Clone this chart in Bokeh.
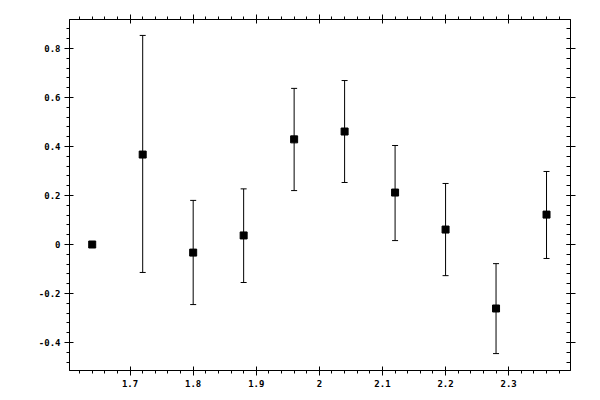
from bokeh.plotting import figure
from bokeh.models import (ColumnDataSource, Range1d, LinearAxis, FixedTicker,
                          Whisker, TeeHead)
from bokeh.embed import file_html
from bokeh.resources import INLINE
import numpy as np

# data
x_vals = [1.64, 1.72, 1.80, 1.88, 1.96, 2.04, 2.12, 2.20, 2.28, 2.36]
y_vals = [0.0, 0.367, -0.033, 0.037, 0.429, 0.461, 0.212, 0.061, -0.261, 0.122]
y_upper = [0.0, 0.853, 0.180, 0.227, 0.637, 0.669, 0.404, 0.249, -0.078, 0.298]
y_lower = [0.0, -0.114, -0.245, -0.155, 0.220, 0.253, 0.016, -0.127, -0.445, -0.057]

x_ticks = [1.7, 1.8, 1.9, 2.0, 2.1, 2.2, 2.3]
x_tick_labels = ["1.7", "1.8", "1.9", "2", "2.1", "2.2", "2.3"]
y_ticks = [-0.4, -0.2, 0.0, 0.2, 0.4, 0.6, 0.8]
y_tick_labels = ["-0.4", "-0.2", "0", "0.2", "0.4", "0.6", "0.8"]

x_minor = [round(v, 2) for v in np.arange(1.60, 2.401, 0.02)]
y_minor = [round(v, 2) for v in np.arange(-0.52, 0.921, 0.04)]

src = ColumnDataSource(dict(x=x_vals, y=y_vals, upper=y_upper, lower=y_lower))

p = figure(width=600, height=400,
           x_range=Range1d(1.604, 2.398), y_range=Range1d(-0.514, 0.918),
           output_backend="svg", toolbar_location=None,
           x_axis_location=None, y_axis_location=None,
           min_border_left=69, min_border_right=30,
           min_border_top=19, min_border_bottom=30)
p.grid.visible = False
p.outline_line_color = "black"
p.background_fill_color = "white"
p.border_fill_color = "white"

FONT = "DejaVu Sans Mono"
FS = "9px"

xt = FixedTicker(ticks=x_ticks, minor_ticks=x_minor)
yt = FixedTicker(ticks=y_ticks, minor_ticks=y_minor)

def style(ax, labels=True):
    ax.axis_line_color = "black"
    ax.major_tick_line_color = "black"
    ax.minor_tick_line_color = "black"
    ax.major_tick_in = 4
    ax.major_tick_out = 5
    ax.major_label_text_font = FONT
    ax.major_label_text_font_style = "bold"
    ax.major_label_text_font_size = FS if labels else "0px"
    ax.major_label_text_color = "black"
    ax.major_label_standoff = 4 if labels else 0

bottom = LinearAxis(ticker=xt,
                    major_label_overrides={t: l for t, l in zip(x_ticks, x_tick_labels)})
style(bottom)
bottom.minor_tick_in = 0
bottom.minor_tick_out = 3
p.add_layout(bottom, "below")

top = LinearAxis(ticker=xt)
style(top, labels=False)
top.minor_tick_in = 0
top.minor_tick_out = 3
top.major_label_overrides = {t: "" for t in x_ticks}
p.add_layout(top, "above")

left = LinearAxis(ticker=yt,
                  major_label_overrides={t: l for t, l in zip(y_ticks, y_tick_labels)})
style(left)
left.minor_tick_in = 0
left.minor_tick_out = 3
p.add_layout(left, "left")

right = LinearAxis(ticker=yt)
style(right, labels=False)
right.minor_tick_in = 4
right.minor_tick_out = 0
right.major_label_overrides = {t: "" for t in y_ticks}
p.add_layout(right, "right")

w = Whisker(source=src, base="x", upper="upper", lower="lower",
            line_color="black", line_width=1,
            upper_head=TeeHead(size=6, line_color="black", line_width=1),
            lower_head=TeeHead(size=6, line_color="black", line_width=1))
p.add_layout(w)

p.scatter("x", "y", source=src, marker="square", size=7,
          fill_color="black", line_color="black")

open("out.html", "w").write(file_html(p, INLINE))
